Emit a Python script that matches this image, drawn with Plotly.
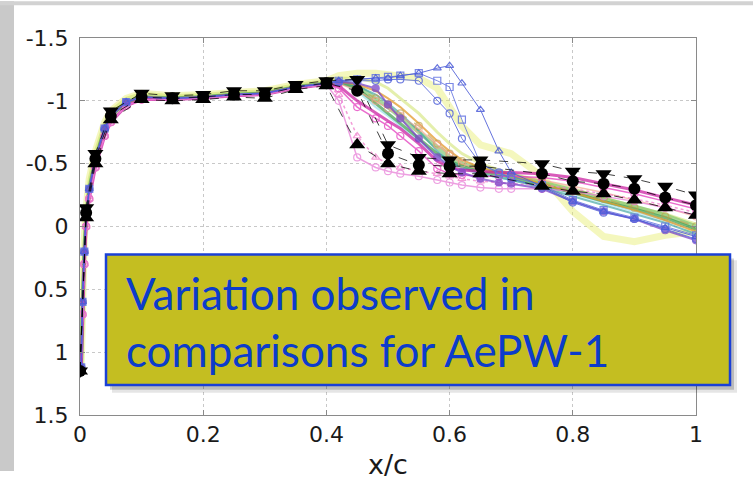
import plotly.graph_objects as go

# ---- chordwise stations ----
FRONT_X = [0.002, 0.004, 0.007, 0.01, 0.015, 0.025, 0.04, 0.05, 0.075, 0.1,
           0.15, 0.2, 0.25, 0.3, 0.35, 0.4]
AFT_X = [0.42, 0.45, 0.48, 0.5, 0.52, 0.55, 0.58, 0.6, 0.62, 0.65, 0.68, 0.7,
         0.75, 0.8, 0.85, 0.9, 0.95, 1.0]

# ---- computed Cp, forward part (three families) ----
FRONT_A = [1.12, 0.6, 0.2, -0.08, -0.3, -0.54, -0.78, -0.88, -0.99, -1.03,
           -1.02, -1.03, -1.05, -1.06, -1.11, -1.14]
FRONT_B = [1.1, 0.5, 0.1, -0.15, -0.38, -0.6, -0.83, -0.92, -1.02, -1.06,
           -1.04, -1.05, -1.07, -1.08, -1.13, -1.16]
FRONT_C = [1.14, 0.7, 0.3, 0.0, -0.22, -0.47, -0.72, -0.83, -0.96, -1.01,
           -1.01, -1.02, -1.04, -1.05, -1.1, -1.13]

# ---- computed Cp, aft part (shock region to trailing edge) ----
CP_BLUE_TRI = [-1.16, -1.17, -1.18, -1.18, -1.2, -1.22, -1.26, -1.28, -1.14, -0.93, -0.6, -0.43,
               -0.32, -0.2, -0.12, -0.06, 0.01, 0.08]
CP_BLUE_SQ = [-1.16, -1.17, -1.18, -1.19, -1.2, -1.22, -1.16, -1.11, -0.85, -0.5, -0.42, -0.4,
              -0.33, -0.21, -0.13, -0.07, 0.0, 0.07]
CP_BLUE_CIRC = [-1.15, -1.16, -1.16, -1.17, -1.17, -1.16, -1.0, -0.9, -0.7, -0.5, -0.43, -0.38,
                -0.31, -0.19, -0.11, -0.06, 0.02, 0.1]
CP_PURPLE = [-1.15, -1.14, -1.1, -0.97, -0.86, -0.7, -0.55, -0.48, -0.43, -0.38, -0.35, -0.34,
             -0.3, -0.2, -0.12, -0.06, 0.03, 0.11]
CP_GREEN = [-1.15, -1.1, -0.98, -0.9, -0.82, -0.7, -0.58, -0.52, -0.48, -0.44, -0.41, -0.39,
            -0.33, -0.27, -0.2, -0.14, -0.07, 0.02]
CP_GREEN_LT = [-1.15, -1.12, -1.02, -0.95, -0.87, -0.75, -0.62, -0.55, -0.5, -0.46, -0.43, -0.41,
               -0.35, -0.29, -0.22, -0.16, -0.09, 0.0]
CP_ORANGE = [-1.15, -1.13, -1.08, -1.02, -0.95, -0.82, -0.68, -0.6, -0.53, -0.47, -0.43, -0.41,
             -0.34, -0.27, -0.2, -0.13, -0.05, 0.04]
CP_TAN = [-1.14, -1.1, -1.02, -0.97, -0.9, -0.8, -0.66, -0.58, -0.52, -0.46, -0.42, -0.4,
          -0.35, -0.28, -0.22, -0.15, -0.08, 0.0]
CP_CYAN = [-1.15, -1.08, -0.95, -0.88, -0.8, -0.68, -0.56, -0.5, -0.46, -0.42, -0.39, -0.37,
           -0.32, -0.26, -0.19, -0.12, -0.05, 0.03]
CP_TEAL = [-1.15, -1.12, -1.05, -0.98, -0.9, -0.76, -0.6, -0.52, -0.47, -0.42, -0.39, -0.37,
           -0.31, -0.24, -0.17, -0.1, -0.03, 0.06]
CP_YELLOW = [-1.2, -1.22, -1.22, -1.21, -1.2, -1.18, -1.1, -0.95, -0.8, -0.65, -0.6, -0.58,
             -0.4, -0.12, 0.08, 0.12, 0.07, 0.04]
CP_LIME = [-1.18, -1.18, -1.15, -1.1, -1.02, -0.9, -0.75, -0.66, -0.58, -0.5, -0.45, -0.42,
           -0.36, -0.3, -0.23, -0.16, -0.1, -0.02]
CP_MAGENTA = [-1.1, -0.95, -0.86, -0.8, -0.72, -0.6, -0.46, -0.42, -0.41, -0.4, -0.4, -0.4,
              -0.39, -0.36, -0.31, -0.26, -0.2, -0.14]
CP_MAGENTA_DK = [-1.12, -1.0, -0.9, -0.84, -0.78, -0.66, -0.52, -0.47, -0.45, -0.44, -0.43, -0.43,
                 -0.42, -0.39, -0.34, -0.29, -0.23, -0.17]
CP_PINK_TRI = [-1.05, -0.72, -0.55, -0.5, -0.47, -0.44, -0.42, -0.4, -0.38, -0.36, -0.35, -0.34,
               -0.33, -0.3, -0.26, -0.22, -0.17, -0.11]
CP_PINK_CIRC = [-1.0, -0.55, -0.47, -0.44, -0.42, -0.4, -0.37, -0.35, -0.33, -0.31, -0.3, -0.3,
                -0.3, -0.28, -0.24, -0.2, -0.15, -0.09]
CP_SALMON = [-1.14, -1.08, -1.0, -0.94, -0.88, -0.78, -0.65, -0.57, -0.5, -0.45, -0.42, -0.41,
             -0.37, -0.32, -0.27, -0.21, -0.15, -0.08]

# ---- experiment (three data sets) ----
EXP_X = [0.0, 0.01, 0.025, 0.05, 0.1, 0.15, 0.2, 0.25, 0.3, 0.35, 0.4, 0.45, 0.5, 0.55,
         0.6, 0.65, 0.75, 0.8, 0.85, 0.9, 0.95, 1.0]
EXP_DOWN = [1.15, -0.15, -0.58, -0.92, -1.06, -1.04, -1.05, -1.08, -1.08, -1.13, -1.16, -1.17,
            -0.65, -0.55, -0.53, -0.53, -0.5, -0.44, -0.42, -0.38, -0.32, -0.25]
EXP_CIRC = [1.15, -0.11, -0.54, -0.88, -1.03, -1.02, -1.03, -1.05, -1.05, -1.11, -1.14, -1.08,
            -0.58, -0.49, -0.48, -0.48, -0.42, -0.36, -0.34, -0.3, -0.23, -0.17]
EXP_UP = [1.15, -0.07, -0.5, -0.85, -1.01, -1.0, -1.01, -1.03, -1.02, -1.09, -1.12, -0.65,
          -0.5, -0.44, -0.42, -0.42, -0.32, -0.28, -0.26, -0.21, -0.15, -0.09]

Y_TICKS = [-1.5, -1, -0.5, 0, 0.5, 1, 1.5]
Y_TICK_TEXT = ["-1.5", "-1", "-0.5", "0", "0.5", "1", "1.5"]
X_TICKS = [0, 0.2, 0.4, 0.6, 0.8, 1]
X_TICK_TEXT = ["0", "0.2", "0.4", "0.6", "0.8", "1"]

fig = go.Figure()

# (front, aft, colour, width, dash, marker symbol, opacity)
cfd = [
    (FRONT_B, CP_YELLOW, "#E6EC5C", 7, "solid", None, 0.4),
    (FRONT_B, CP_LIME, "#CFE36A", 3, "solid", None, 0.55),
    (FRONT_A, CP_CYAN, "#7FD6E6", 2, "solid", None, 0.55),
    (FRONT_A, CP_GREEN_LT, "#7CC46A", 4, "solid", None, 0.65),
    (FRONT_A, CP_GREEN, "#3E9E4A", 3, "solid", None, 0.7),
    (FRONT_A, CP_TEAL, "#3AA3A0", 2, "solid", None, 0.65),
    (FRONT_A, CP_ORANGE, "#E39A2A", 2, "solid", None, 0.75),
    (FRONT_A, CP_TAN, "#BFA14A", 1.5, "dash", "circle-open", 0.65),
    (FRONT_C, CP_SALMON, "#F2A08A", 1.5, "solid", "circle-open", 0.65),
    (FRONT_C, CP_MAGENTA_DK, "#C8169E", 3, "solid", None, 0.7),
    (FRONT_C, CP_MAGENTA, "#E43CBE", 1.5, "solid", "circle-open", 0.75),
    (FRONT_C, CP_PINK_TRI, "#F07CCB", 1.5, "dot", "triangle-up-open", 0.75),
    (FRONT_C, CP_PINK_CIRC, "#E880D8", 1.5, "solid", "circle-open", 0.75),
    (FRONT_A, CP_PURPLE, "#7A44C8", 2, "solid", "circle", 0.75),
    (FRONT_A, CP_BLUE_CIRC, "#5868DC", 1, "solid", "circle-open", 0.85),
    (FRONT_A, CP_BLUE_SQ, "#6474E2", 1, "solid", "square-open", 0.85),
    (FRONT_A, CP_BLUE_TRI, "#4B5BD8", 1, "solid", "triangle-up-open", 0.85),
]

for front, aft, colour, width, dash, symbol, op in cfd:
    fig.add_trace(go.Scatter(
        x=FRONT_X + AFT_X, y=front + aft,
        mode="lines+markers" if symbol else "lines",
        line=dict(color=colour, width=width, dash=dash),
        marker=dict(symbol=symbol or "circle", size=7, color=colour,
                    line=dict(color=colour, width=1.2)),
        opacity=op, showlegend=False, hoverinfo="skip",
    ))

# experimental data: dashed black lines with filled markers
for ys, sym, size in [(EXP_UP, "triangle-up", 14), (EXP_DOWN, "triangle-down", 14),
                      (EXP_CIRC, "circle", 12)]:
    fig.add_trace(go.Scatter(
        x=EXP_X, y=ys, mode="lines+markers",
        line=dict(color="rgba(0,0,0,0.75)", width=1, dash="dash"),
        marker=dict(symbol=sym, size=size, color="black"),
        showlegend=False, hoverinfo="skip",
    ))

# plot-area geometry in pixels (for paper-coordinate shapes)
L, R, T, B = 80, 696, 38, 428
W, H = 753, 486


def px(x):
    return (x - L) / (R - L)


def py(y):
    return (B - y) / (B - T)


shapes = [
    # frame strips around the slide
    dict(type="rect", xref="paper", yref="paper", x0=px(0), x1=px(14), y0=py(H), y1=py(0),
         fillcolor="#C9C9C9", line=dict(width=0), layer="above"),
    dict(type="rect", xref="paper", yref="paper", x0=px(0), x1=px(W), y0=py(4), y1=py(0),
         fillcolor="#D2D2D2", line=dict(width=0), layer="above"),
    # callout shadow
    dict(type="rect", xref="paper", yref="paper", x0=px(112), x1=px(737), y0=py(405), y1=py(268),
         fillcolor="rgba(0,0,0,0.10)", line=dict(width=0), layer="above"),
    dict(type="rect", xref="paper", yref="paper", x0=px(110), x1=px(734), y0=py(402), y1=py(266),
         fillcolor="rgba(0,0,0,0.18)", line=dict(width=0), layer="above"),
    # callout box
    dict(type="rect", xref="paper", yref="paper", x0=px(106), x1=px(730), y0=py(397), y1=py(262),
         fillcolor="#C4BE21", line=dict(color="#1A40D6", width=2.5), layer="above"),
]

fig.add_annotation(
    xref="paper", yref="paper", x=px(124), y=py(331), xanchor="left", yanchor="middle",
    text="Variation observed in<br>comparisons for AePW-1", showarrow=False, align="left",
    font=dict(family="Lato", size=44, color="#0C3CCB"),
)

axis_common = dict(
    showline=True, linecolor="#8A8A8A", linewidth=1, mirror="ticks",
    ticks="inside", ticklen=5, tickcolor="#8A8A8A",
    showgrid=True, gridcolor="#C8C8C8", griddash="dot", gridwidth=1,
    zeroline=False,
    tickfont=dict(family="DejaVu Sans", size=22, color="#1A1A1A"),
)

fig.update_layout(
    width=W, height=H,
    margin=dict(l=L, r=W - R, t=T, b=H - B),
    paper_bgcolor="white", plot_bgcolor="white",
    shapes=shapes,
    xaxis=dict(range=[0, 1], tickvals=X_TICKS, ticktext=X_TICK_TEXT,
               title=dict(text="x/c", font=dict(family="DejaVu Sans", size=27, color="#1A1A1A"),
                          standoff=8),
               **axis_common),
    yaxis=dict(range=[1.5, -1.5], tickvals=Y_TICKS, ticktext=Y_TICK_TEXT, ticklabelstandoff=6,
               **axis_common),
)

fig.write_html("out.html")
